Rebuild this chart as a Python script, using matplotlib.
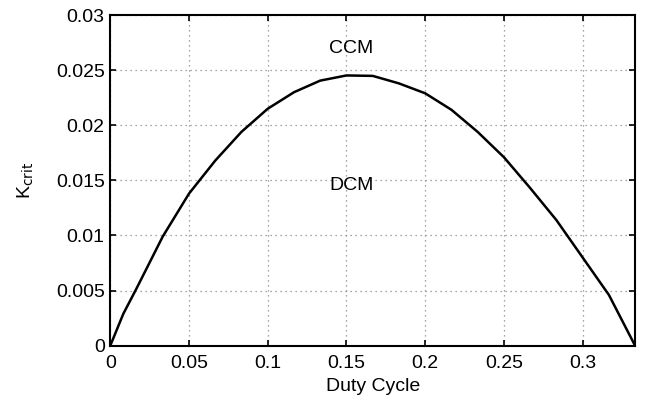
import numpy as np
import matplotlib
matplotlib.use("Agg")
import matplotlib.pyplot as plt

plt.rcParams['font.family'] = ['Liberation Sans', 'DejaVu Sans']

# duty cycle and critical K
duty = [0, 0.0083, 0.0167, 0.0333, 0.05, 0.0667, 0.0833, 0.1, 0.1167, 0.1333,
        0.15, 0.1667, 0.1833, 0.2, 0.2167, 0.2333, 0.25, 0.2667, 0.2833,
        0.3, 0.3167, 0.3333]
kcrit = [0, 0.0029, 0.0052, 0.0099, 0.0138, 0.0168, 0.0194, 0.0215, 0.0230,
         0.02405, 0.02452, 0.02448, 0.0238, 0.0229, 0.0214, 0.0194, 0.0171,
         0.0143, 0.0114, 0.0080, 0.0046, 0]
xticks = [0, 0.05, 0.1, 0.15, 0.2, 0.25, 0.3]
yticks = [0, 0.005, 0.01, 0.015, 0.02, 0.025, 0.03]

fig = plt.figure(figsize=(6.46, 3.96), dpi=100)
ax = fig.add_axes([0.1707, 0.127, 0.8125, 0.835])
ax.plot(duty, kcrit, color='black', lw=1.8)

ax.set_xlim(0, 1/3)
ax.set_ylim(0, 0.03)
ax.set_xticks(xticks)
ax.set_xticklabels(['0', '0.05', '0.1', '0.15', '0.2', '0.25', '0.3'])
ax.set_yticks(yticks)
ax.set_yticklabels(['0', '0.005', '0.01', '0.015', '0.02', '0.025', '0.03'])
ax.tick_params(direction='in', top=True, right=True, labelsize=14, length=4, width=1.2)
ax.tick_params(axis='x', pad=7)
ax.tick_params(axis='y', pad=4)
for s in ax.spines.values():
    s.set_linewidth(1.5)
ax.grid(True, linestyle=(0, (1, 3)), color='#888888', lw=0.9)

ax.text(0.153, 0.027, 'CCM', ha='center', va='center', fontsize=14)
ax.text(0.153, 0.01455, 'DCM', ha='center', va='center', fontsize=14)

ax.set_xlabel('Duty Cycle', fontsize=14, labelpad=4)
ax.set_ylabel(r'K$_{\mathrm{crit}}$', fontsize=14, labelpad=14)

fig.savefig('out.png', dpi=100)
